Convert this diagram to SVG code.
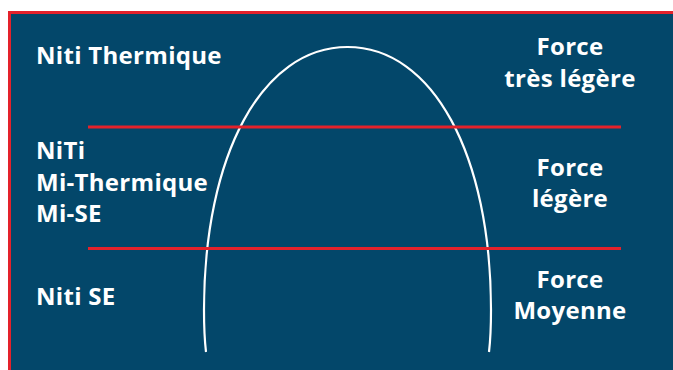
<svg xmlns="http://www.w3.org/2000/svg" width="673" height="370" viewBox="0 0 673 370">
<style>
.t{font-family:"Open Sans","Liberation Sans",sans-serif;font-weight:700;font-size:24px;letter-spacing:0.3px;fill:#ffffff}
.c{text-anchor:middle}
.red{stroke:#e4222b;stroke-width:3;fill:none}
</style>
<rect x="0" y="0" width="673" height="370" fill="#ffffff"/>
<rect x="8" y="11" width="680" height="370" fill="#e4222b"/>
<rect x="11" y="14" width="670" height="360" fill="#03476a"/>
<g id="arch">
<path d="M206,352 Q204,335 204,310 C204,155 262,47 347.5,47 C433,47 491,155 491,310 Q491,335 489,352" fill="none" stroke="#ffffff" stroke-width="2.2"/>
</g>
<g id="lines">
<line class="red" x1="88" y1="127" x2="621" y2="127"/>
<line class="red" x1="88" y1="248.5" x2="621" y2="248.5"/>
</g>
<g id="left-labels">
<text class="t" x="36" y="64">Niti Thermique</text>
<text class="t" x="36" y="159">NiTi</text>
<text class="t" x="36" y="191">Mi-Thermique</text>
<text class="t" x="36" y="222">Mi-SE</text>
<text class="t" x="36" y="305">Niti SE</text>
</g>
<g id="right-labels">
<text class="t c" x="570" y="55">Force</text>
<text class="t c" x="570" y="87">très légère</text>
<text class="t c" x="570" y="176">Force</text>
<text class="t c" x="570" y="207">légère</text>
<text class="t c" x="570" y="288">Force</text>
<text class="t c" x="570" y="319">Moyenne</text>
</g>
</svg>
